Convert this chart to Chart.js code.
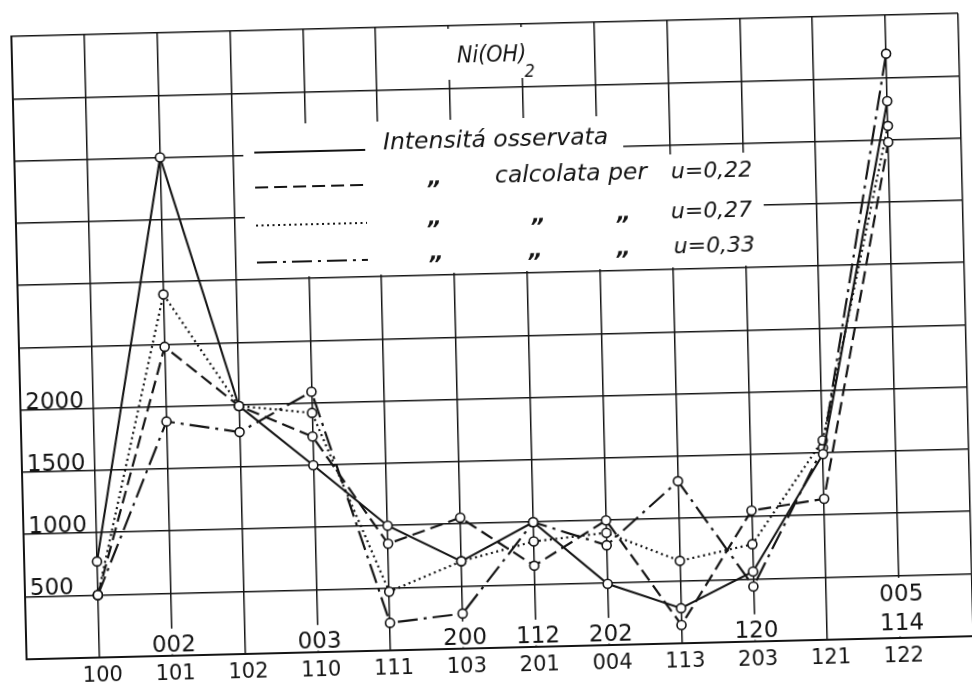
<!DOCTYPE html>
<html>
<head>
<meta charset="utf-8">
<script src="https://cdn.jsdelivr.net/npm/chart.js@4.4.1/dist/chart.umd.min.js"></script>
<style>
  html, body { margin: 0; padding: 0; background: #fff; overflow: hidden; }
  /* the scanned sheet sits slightly askew */
  #chart { display: block; transform: rotate(-1.4deg); transform-origin: 50% 50%; }
</style>
</head>
<body>
<canvas id="chart" width="972" height="687"></canvas>
<script>
// ----------------- Data -----------------
const categories = ['100', '101', '102', '110', '111', '103', '201', '004', '113', '203', '121', '122'];
const upperLabels = [[], ['002'], [], ['003'], [], ['200'], ['112'], ['202'], [], ['120'], [], ['005', '114']];
const observed = [770, 4000, 1990, 1500, 1000, 700, 1000, 490, 280, 560, 1490, 4310];
const calc022 = [500, 2480, 1990, 1730, 855, 1050, 650, 1000, 145, 1050, 1130, 3980];
const calc027 = [500, 2900, 1990, 1920, 470, 700, 845, 900, 660, 780, 1600, 4110];
const calc033 = [500, 1880, 1780, 2090, 220, 280, 1000, 800, 1300, 440, 1540, 4690];
const yLabels = [500, 1000, 1500, 2000];

const INK = '#141414';
const FONT = '"DejaVu Sans", "Liberation Sans", sans-serif';
const dashes = { solid: [], dashed: [13, 6], dotted: [2, 3.5], dashDot: [20, 6, 3, 6] };

const toPoints = vals => vals.map((v, i) => ({ x: i + 1, y: v }));

function series(values, dash, width) {
  return {
    data: toPoints(values),
    borderColor: INK,
    borderWidth: width,
    borderDash: dash,
    tension: 0,
    pointRadius: 4.5,
    pointBorderWidth: 1.6,
    pointBorderColor: INK,
    pointBackgroundColor: '#fff'
  };
}

// legend rows drawn into the sheet, offsets from the plot corner
const legendRows = [
  { dash: dashes.solid, line: 122, base: 122, texts: [['Intensitá osservata', 369, 'l']] },
  { dash: dashes.dashed, line: 157, base: 158, texts: [['„', 420, 'c'], ['calcolata per', 480, 'l'], ['u=0,22', 656, 'u']] },
  { dash: dashes.dotted, line: 195, base: 198, texts: [['„', 419, 'c'], ['„', 523, 'c'], ['„', 608, 'c'], ['u=0,27', 655, 'u']] },
  { dash: dashes.dashDot, line: 232, base: 233, texts: [['„', 420, 'c'], ['„', 519, 'c'], ['„', 607, 'c'], ['u=0,33', 657, 'u']] }
];

const sheetText = {
  id: 'sheetText',
  beforeDatasetsDraw(chart) {
    const { ctx, chartArea: a } = chart;
    const xs = chart.scales.x;
    const L = a.left, T = a.top;
    ctx.save();

    // grid is left out behind the title and the legend
    ctx.fillStyle = '#fff';
    ctx.fillRect(L + 229, T + 94, 380, 153);
    ctx.fillRect(L + 609, T + 134, 139, 113);
    ctx.fillRect(L + 432, T + 3, 88, 51);

    // title
    ctx.fillStyle = INK;
    ctx.textAlign = 'left';
    ctx.font = 'italic 23px "DejaVu Sans Condensed", ' + FONT;
    ctx.fillText('Ni(OH)', L + 445, T + 37);
    const tw = ctx.measureText('Ni(OH)').width;
    ctx.font = 'italic 18px "DejaVu Sans Condensed", ' + FONT;
    ctx.fillText('2', L + 443 + tw, T + 53);

    // legend
    legendRows.forEach(row => {
      ctx.strokeStyle = INK;
      ctx.lineWidth = 2.2;
      ctx.setLineDash(row.dash);
      ctx.beginPath();
      ctx.moveTo(L + 240, T + row.line);
      ctx.lineTo(L + 351, T + row.line);
      ctx.stroke();
      row.texts.forEach(([s, x, kind]) => {
        if (kind === 'c') {
          ctx.font = 'bold italic 22px ' + FONT;
          ctx.textAlign = 'center';
        } else if (kind === 'u') {
          ctx.font = 'italic 22px ' + FONT;
          ctx.textAlign = 'left';
        } else {
          ctx.font = 'italic 23.5px ' + FONT;
          ctx.textAlign = 'left';
        }
        ctx.fillText(s, L + x, T + row.base);
      });
    });
    ctx.setLineDash([]);

    // second row of reflection indices, inside the frame
    ctx.font = '23px ' + FONT;
    ctx.textAlign = 'center';
    upperLabels.forEach((lines, i) => {
      if (!lines.length) return;
      const x = xs.getPixelForValue(i + 1);
      const lift = lines.length > 1 ? 8 : 4;
      const step = 29;
      const top = a.bottom - lift - 17 - (lines.length - 1) * step;
      const w = Math.max(...lines.map(s => ctx.measureText(s).width));
      ctx.fillStyle = '#fff';
      ctx.fillRect(x - w / 2 - 2, top - 6, w + 4, a.bottom - 1.3 - (top - 6));
      ctx.fillStyle = INK;
      lines.forEach((s, k) => ctx.fillText(s, x + 2, a.bottom - lift - (lines.length - 1 - k) * step));
    });
    ctx.restore();
  }
};

// ----------------- Chart -----------------
const ctx = document.getElementById('chart').getContext('2d');
new Chart(ctx, {
  type: 'line',
  data: {
    datasets: [
      series(observed, dashes.solid, 2.1),
      series(calc022, dashes.dashed, 2.2),
      series(calc027, dashes.dotted, 2.2),
      series(calc033, dashes.dashDot, 2.2)
    ]
  },
  options: {
    responsive: false,
    animation: false,
    layout: { padding: { left: 9, right: 5, top: 25, bottom: 2 } },
    plugins: { legend: { display: false }, tooltip: { enabled: false } },
    scales: {
      x: {
        type: 'linear', min: 0, max: 13,
        grid: { color: INK, lineWidth: 1.5, drawTicks: false },
        border: { color: INK, width: 2 },
        ticks: {
          stepSize: 1, autoSkip: false, maxRotation: 0, padding: 6, labelOffset: 3,
          color: INK, font: { family: FONT, size: 21 },
          callback: v => categories[v - 1] || ''
        }
      },
      y: {
        min: 0, max: 5000,
        grid: { color: INK, lineWidth: 1.5, drawTicks: false },
        border: { color: INK, width: 2 },
        ticks: {
          stepSize: 500, mirror: true, padding: 5, labelOffset: -7,
          color: INK, font: { family: FONT, size: 23 },
          callback: v => yLabels.includes(v) ? String(v) : ''
        }
      }
    }
  },
  plugins: [sheetText]
});
</script>
</body>
</html>
